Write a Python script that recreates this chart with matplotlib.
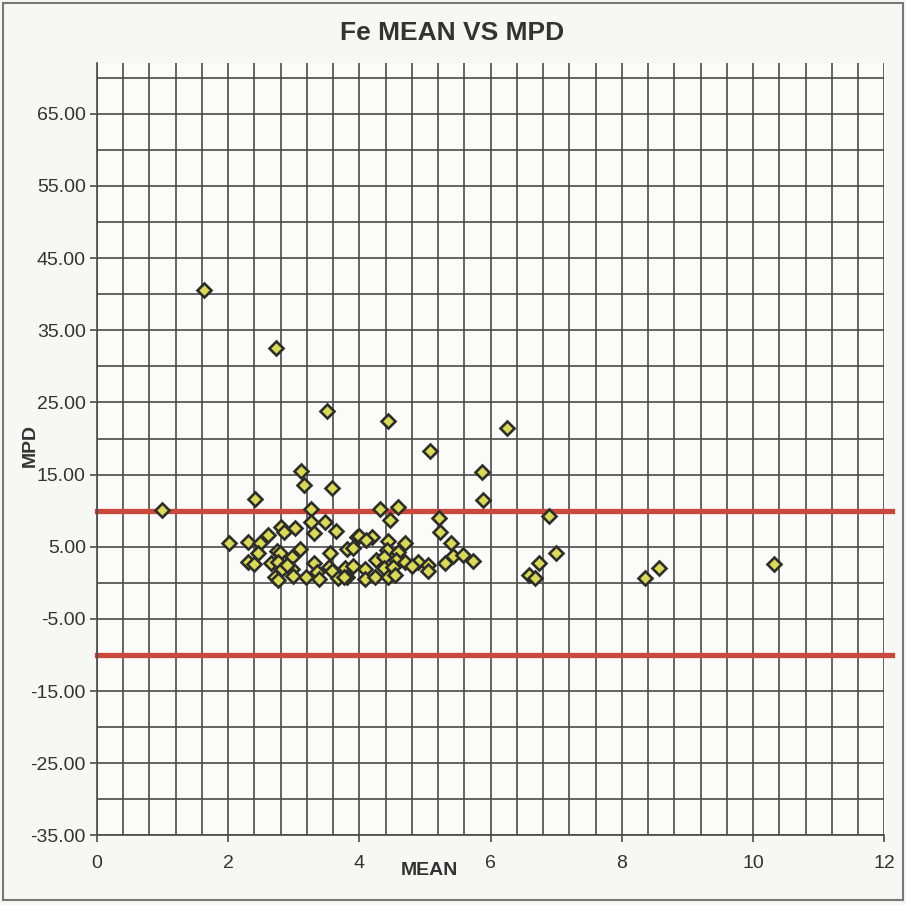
import matplotlib
matplotlib.use("Agg")
import matplotlib.pyplot as plt
from matplotlib.patches import Rectangle
from matplotlib.ticker import MultipleLocator, FormatStrFormatter

# values
mean = [0.99, 1.63, 2.73, 3.51, 4.43, 5.07, 6.25, 5.87, 5.88, 3.11, 3.16, 3.58, 2.41,
        3.26, 4.32, 4.59, 4.46, 5.22, 5.23, 6.89, 6.99, 6.74, 6.59, 6.68, 8.35, 8.57, 10.32,
        3.26, 3.48, 3.31, 3.64, 2.81, 2.85, 3.02, 2.61, 2.02, 2.30, 2.49, 2.45, 2.74, 2.79,
        3.09, 2.31, 2.39, 2.65, 2.76, 2.98, 2.82, 2.97, 2.89, 2.72, 2.76, 2.99, 3.19, 3.31,
        3.36, 3.38, 3.55, 3.53, 3.59, 3.67, 3.78, 3.81, 3.90, 3.96, 3.91, 3.81,
        4.00, 4.19, 4.10, 4.43, 4.70, 4.42, 4.59, 4.25, 4.38, 4.56, 4.70, 4.90, 4.80, 5.05,
        5.04, 5.40, 5.43, 5.58, 5.73, 5.30, 4.09, 4.37, 4.52, 4.09, 4.24, 4.44, 4.54, 3.76]
mpd = [10.1, 40.6, 32.5, 23.85, 22.4, 18.2, 21.4, 15.3, 11.5, 15.5, 13.6, 13.2, 11.6,
       10.2, 10.2, 10.45, 8.7, 9.0, 7.0, 9.3, 4.2, 2.8, 1.15, 0.6, 0.7, 2.1, 2.55,
       8.4, 8.45, 6.85, 7.2, 7.7, 7.0, 7.65, 6.6, 5.55, 5.7, 5.45, 4.2, 4.45, 4.2,
       4.65, 2.95, 2.6, 2.7, 2.95, 3.55, 1.85, 1.85, 2.45, 0.75, 0.4, 0.95, 0.85, 2.8,
       1.55, 0.5, 4.2, 2.25, 1.7, 0.6, 2.0, 4.65, 2.3, 6.4, 4.8, 0.75,
       6.5, 6.4, 5.95, 5.8, 5.45, 4.5, 4.3, 3.15, 3.6, 3.15, 2.95, 2.95, 2.3, 2.45,
       1.7, 5.45, 3.7, 3.85, 3.05, 2.8, 1.85, 2.0, 2.25, 0.5, 0.75, 0.75, 1.1, 0.85]
limits = [10, -10]

grid_col = "#4a4a4a"
text_col = "#333333"

fig = plt.figure(figsize=(9.06, 9.05), dpi=100)
fig.patch.set_facecolor("#f7f7f5")
ax = fig.add_axes([0.107, 0.077, 0.869, 0.853])
ax.set_facecolor("#fbfbfa")

ax.set_xlim(0, 12)
ax.set_ylim(-35, 72)

ax.xaxis.set_major_locator(MultipleLocator(2))
ax.xaxis.set_minor_locator(MultipleLocator(0.4))
ax.yaxis.set_major_locator(MultipleLocator(10))
ax.yaxis.set_minor_locator(MultipleLocator(5))
ax.yaxis.set_major_formatter(FormatStrFormatter("%.2f"))
ax.set_yticks(range(-35, 66, 10))

ax.grid(True, which="both", color=grid_col, linewidth=1.2)
ax.set_axisbelow(True)

for s in ["top", "right"]:
    ax.spines[s].set_visible(False)
for s in ["left", "bottom"]:
    ax.spines[s].set_color(grid_col)
    ax.spines[s].set_linewidth(1.2)

ax.tick_params(which="both", direction="out", color=grid_col, length=5, width=1.2,
               labelsize=14, labelcolor=text_col)
ax.tick_params(which="minor", length=0)
ax.tick_params(axis="x", pad=9)
ax.tick_params(axis="y", pad=3)
for lab in ax.get_xticklabels() + ax.get_yticklabels():
    lab.set_family("Liberation Sans")

# red limit lines run a bit past the right axis
for lim in limits:
    ax.plot([0, 12.12], [lim, lim], color="#c9473b", linewidth=3.8,
            clip_on=False, zorder=2)

ax.plot(mean, mpd, linestyle="none", marker="D", markersize=7,
        markerfacecolor="#d9d95a", markeredgecolor="#2e2e28", markeredgewidth=1.9,
        zorder=3)

fig.text(0.499, 0.963, "Fe MEAN VS MPD", ha="center", va="center",
         fontsize=19, fontweight="bold", color=text_col, family="Liberation Sans")
fig.text(0.474, 0.038, "MEAN", ha="center", va="center",
         fontsize=14, fontweight="bold", color=text_col, family="Liberation Sans")
fig.text(0.033, 0.508, "MPD", ha="center", va="center", rotation=90,
         fontsize=14, fontweight="bold", color=text_col, family="Liberation Sans")

# outer frame of the chart area
fig.patches.append(Rectangle((0.003, 0.006), 0.994, 0.991, transform=fig.transFigure,
                             fill=False, edgecolor="#777777", linewidth=1.5))

fig.savefig("out.png", dpi=100, facecolor=fig.get_facecolor())
